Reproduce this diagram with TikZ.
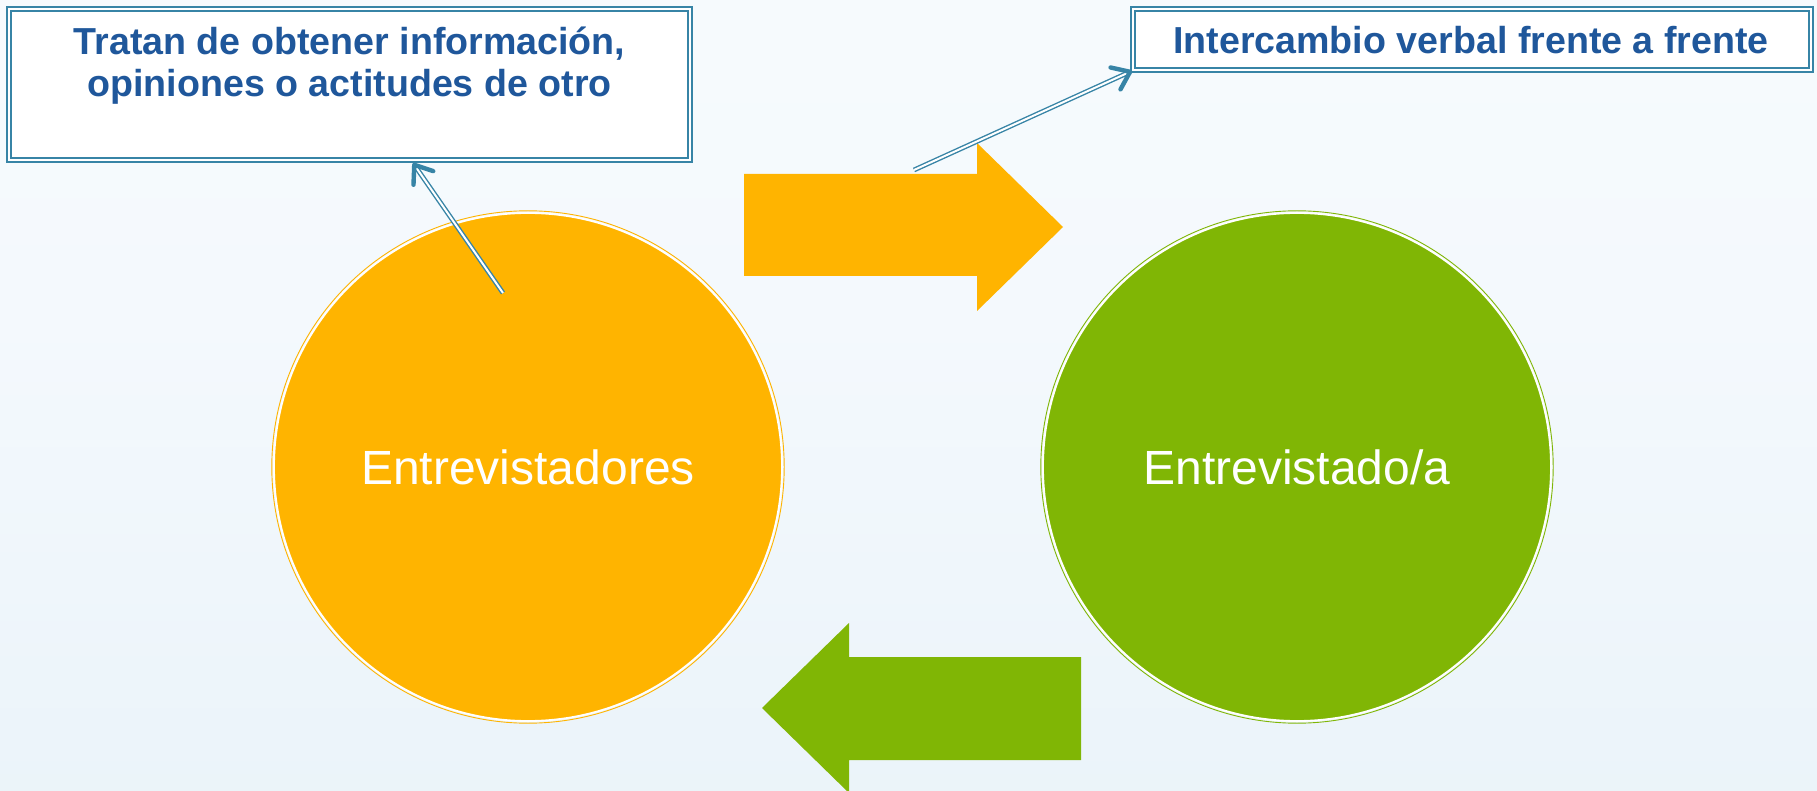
\documentclass[tikz,border=0pt]{standalone}
\usepackage{fontspec}
\setmainfont{Liberation Sans}
\usetikzlibrary{arrows.meta,calc}
\definecolor{bgtop}{RGB}{249,252,254}
\definecolor{bgmid}{RGB}{244,249,253}
\definecolor{bgmidb}{RGB}{234,243,249}
\definecolor{bgbot}{RGB}{214,232,240}
\definecolor{orangec}{RGB}{255,180,0}
\definecolor{greenc}{RGB}{128,182,5}
\definecolor{txtblue}{RGB}{31,87,155}
\definecolor{linec}{RGB}{55,132,166}
\pgfdeclareverticalshading{bgshade}{100bp}{color(0bp)=(bgbot); color(22bp)=(bgmidb); color(55bp)=(bgmid); color(100bp)=(bgtop)}
\tikzset{
  circ/.style={circle, minimum size=254pt, inner sep=0pt, draw=white, line width=0.9pt,
    text=white, font=\fontsize{24}{28}\selectfont},
  infobox/.style={draw=linec, double=white, double distance=1pt, line width=0.9pt,
    fill=white, rectangle, inner sep=0pt},
  infotext/.style={text=txtblue, font=\bfseries\fontsize{18.8}{21.2}\selectfont, align=center},
  conn/.style={draw=linec, double=white, double distance=1pt, line width=0.7pt,
    -{Straight Barb[length=8pt,width=12pt,line width=2.2pt,round]}}
}
\begin{document}
\begin{tikzpicture}[x=0.5pt,y=-0.5pt]
\useasboundingbox (0,0) rectangle (1817,791);
\shade[shading=bgshade] (0,0) rectangle (1817,791);

% block arrows
\fill[orangec] (744,174) -- (977,174) -- (977,143) -- (1063,227) -- (977,311) -- (977,276) -- (744,276) -- cycle;
\fill[greenc] (1081,657) -- (849,657) -- (849,623) -- (762,708) -- (849,793) -- (849,760) -- (1081,760) -- cycle;

% circles
\node[circ, fill=orangec] (A) at (528,467) {Entrevistadores};
\draw[orangec, line width=0.45pt] (A.center) circle (128.1pt);
\node[circ, fill=greenc] (G) at (1297,467) {Entrevistado/a};
\draw[greenc, line width=0.45pt] (G.center) circle (128.1pt);

% boxes
\node[infobox, minimum width=340.5pt, minimum height=75.5pt] (L) at (349.5,84.5) {};
\node[infotext] (Lt) at (349.5,65.8) {Tratan de obtener información,\\opiniones o actitudes de otro};
\node[infobox, minimum width=339pt, minimum height=30.5pt] (R) at (1472,39.5) {};
\node[infotext] (Rt) at (1471,40.5) {Intercambio verbal frente a frente};

% connectors
\coordinate (s1) at (503,293);
\coordinate (e1) at (413,163);
\draw[conn] (s1) -- (e1);
\coordinate (s2) at (914,170);
\draw[conn] (s2) -- (R.south west);
\end{tikzpicture}
\end{document}
